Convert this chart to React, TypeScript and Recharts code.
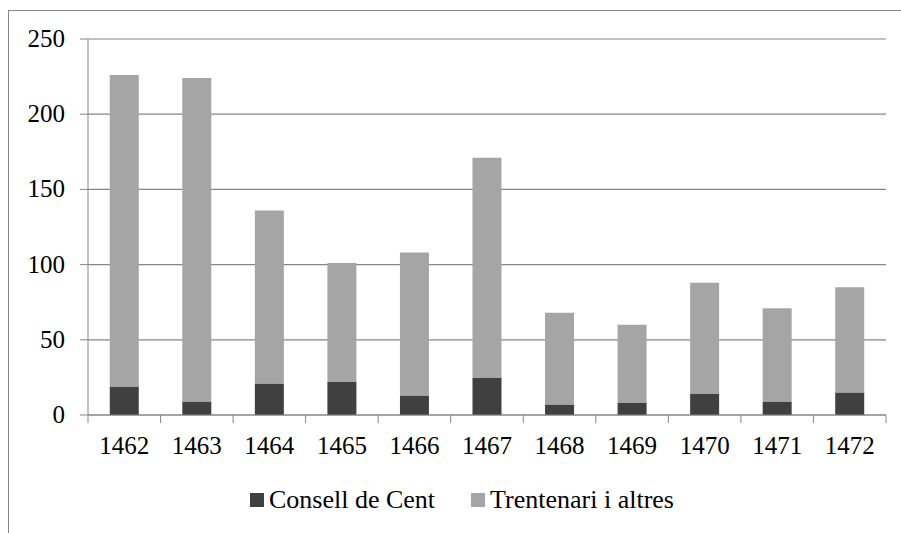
import { BarChart, Bar, XAxis, YAxis, CartesianGrid, Legend } from 'recharts'

const years = ['1462', '1463', '1464', '1465', '1466', '1467', '1468', '1469', '1470', '1471', '1472']
const consellDeCent = [19, 9, 21, 22, 13, 25, 7, 8, 14, 9, 15]
const trentenari = [207, 215, 115, 79, 95, 146, 61, 52, 74, 62, 70]
const yTicks = [0, 50, 100, 150, 200, 250]

const data = years.map((year, i) => ({
  year,
  consell: consellDeCent[i],
  trentenari: trentenari[i],
}))

const FONT = "'Liberation Serif', 'Times New Roman', Times, 'DejaVu Serif', serif"
const AXIS = '#868686'
const COLORS = {
  consell:    '#404040',
  trentenari: '#a5a5a5',
}

// Excel-style ticks: marks on the category boundaries, label in the middle
function YearTick(props: any) {
  const { x, y, payload, index, visibleTicksCount, width } = props
  const half = width / visibleTicksCount / 2
  const axisY = y - 8
  return (
    <g>
      <line x1={x - half} x2={x - half} y1={axisY} y2={y} stroke={AXIS} />
      {index === visibleTicksCount - 1 && (
        <line x1={x + half} x2={x + half} y1={axisY} y2={y} stroke={AXIS} />
      )}
      <text x={x} y={y + 31} textAnchor="middle" fill="#000" style={{ fontSize: 25, fontFamily: FONT }}>
        {payload.value}
      </text>
    </g>
  )
}

function YTick(props: any) {
  const { x, y, payload } = props
  return (
    <text x={x} y={y + 8} textAnchor="end" fill="#000" style={{ fontSize: 25, fontFamily: FONT }}>
      {payload.value}
    </text>
  )
}

function LegendContent({ payload }: { payload?: { value: string; color: string }[] }) {
  if (!payload) return null
  return (
    <div style={{ display: 'flex', alignItems: 'center', fontFamily: FONT, fontSize: 26, color: '#000' }}>
      {payload.map((p, i) => (
        <span key={p.value} style={{ display: 'flex', alignItems: 'center', marginLeft: i ? 36 : 0 }}>
          <span style={{ display: 'inline-block', width: 14, height: 14, background: p.color, marginRight: 5 }} />
          {p.value}
        </span>
      ))}
    </div>
  )
}

export default function App() {
  return (
    <div style={{ position: 'absolute', left: 0, top: 0, width: 901, height: 533, overflow: 'hidden', background: '#fff', fontFamily: FONT }}>
      <div
        style={{
          position: 'absolute', left: 8, top: 10, width: 893, height: 523,
          borderLeft: `1px solid ${AXIS}`, borderTop: `1px solid ${AXIS}`,
        }}
      />
      <div style={{ position: 'absolute', left: 0, top: 0 }}>
        <BarChart
          width={901}
          height={533}
          data={data}
          margin={{ top: 39, right: 15, bottom: 78, left: 8 }}
          barCategoryGap="30%"
        >
          <CartesianGrid vertical={false} stroke={AXIS} strokeWidth={1.2} />
          <XAxis
            dataKey="year"
            height={40}
            axisLine={{ stroke: AXIS }}
            tickLine={false}
            tickSize={8}
            tickMargin={0}
            interval={0}
            tick={<YearTick />}
          />
          <YAxis
            width={80}
            domain={[0, 250]}
            ticks={yTicks}
            axisLine={{ stroke: AXIS }}
            tickLine={{ stroke: AXIS }}
            tickSize={8}
            tickMargin={15}
            tick={<YTick />}
          />
          <Legend
            verticalAlign="middle"
            content={<LegendContent />}
            wrapperStyle={{ top: 485, left: 250, width: 'auto' }}
          />
          <Bar dataKey="consell" name="Consell de Cent" stackId="a" fill={COLORS.consell} isAnimationActive={false} />
          <Bar dataKey="trentenari" name="Trentenari i altres" stackId="a" fill={COLORS.trentenari} isAnimationActive={false} />
        </BarChart>
      </div>
    </div>
  )
}
